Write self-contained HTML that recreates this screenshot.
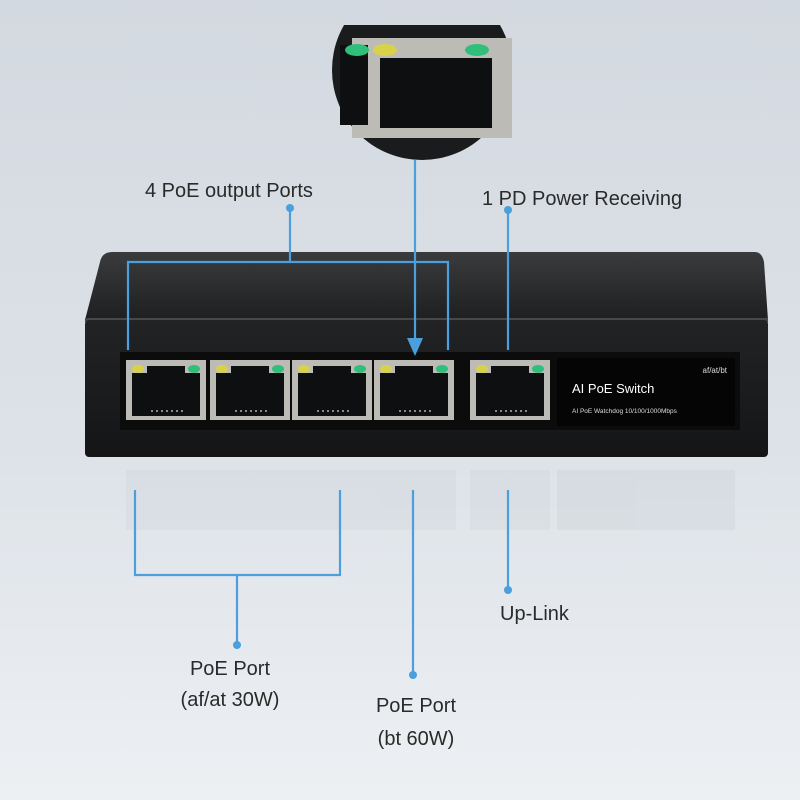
<!DOCTYPE html>
<html><head><style>
html,body{margin:0;padding:0;width:800px;height:800px;overflow:hidden}
svg{display:block}
text{font-family:"Liberation Sans",sans-serif}
</style></head><body>
<svg width="800" height="800" viewBox="0 0 800 800" xmlns="http://www.w3.org/2000/svg">
<defs>
<linearGradient id="bg" x1="0" y1="0" x2="0" y2="1">
<stop offset="0" stop-color="#d3d9e0"/><stop offset="0.55" stop-color="#dde2e8"/><stop offset="1" stop-color="#edf0f3"/>
</linearGradient>
<linearGradient id="top" x1="0" y1="0" x2="0" y2="1">
<stop offset="0" stop-color="#3a3b3d"/><stop offset="1" stop-color="#1e1f21"/>
</linearGradient>
<linearGradient id="front" x1="0" y1="0" x2="0" y2="1">
<stop offset="0" stop-color="#222325"/><stop offset="1" stop-color="#141516"/>
</linearGradient>
<g id="port">
<rect x="0" y="0" width="80" height="60" fill="#bdbbb5"/>
<rect x="6" y="6" width="68" height="50" fill="#0e0f10"/>
<rect x="3" y="3" width="18" height="10" fill="#bdbbb5"/>
<rect x="59" y="3" width="18" height="10" fill="#bdbbb5"/>
<ellipse cx="12" cy="9" rx="6" ry="4" fill="#d8d24a"/>
<ellipse cx="68" cy="9" rx="6" ry="4" fill="#2fbf7a"/>
<g fill="#888"><rect x="25" y="50" width="2" height="2"/><rect x="30" y="50" width="2" height="2"/><rect x="35" y="50" width="2" height="2"/><rect x="40" y="50" width="2" height="2"/><rect x="45" y="50" width="2" height="2"/><rect x="50" y="50" width="2" height="2"/><rect x="55" y="50" width="2" height="2"/></g>
</g>
<clipPath id="cc"><rect x="300" y="25" width="250" height="200"/></clipPath>
</defs>
<rect width="800" height="800" fill="url(#bg)"/>

<g clip-path="url(#cc)">
<circle cx="422" cy="70" r="90" fill="#1a1b1d"/>
<rect x="352" y="38" width="160" height="100" fill="#bdbbb5"/>
<rect x="340" y="45" width="28" height="80" fill="#0e0f10"/>
<rect x="380" y="58" width="112" height="70" fill="#0e0f10"/>
<ellipse cx="357" cy="50" rx="12" ry="6" fill="#2fbf7a"/>
<ellipse cx="385" cy="50" rx="12" ry="6" fill="#d8d24a"/>
<ellipse cx="477" cy="50" rx="12" ry="6" fill="#2fbf7a"/>
</g>

<path d="M112,252 L755,252 Q762,252 764,262 L768,320 L85,320 L100,262 Q102,252 112,252 Z" fill="url(#top)"/>
<rect x="85" y="318" width="683" height="4" fill="#47484a"/>
<rect x="85" y="320" width="683" height="137" rx="4" fill="url(#front)"/>
<rect x="120" y="352" width="620" height="78" fill="#0c0c0d"/>
<use href="#port" x="126" y="360"/>
<use href="#port" x="210" y="360"/>
<use href="#port" x="292" y="360"/>
<use href="#port" x="374" y="360"/>
<use href="#port" x="470" y="360"/>
<rect x="557" y="358" width="178" height="68" fill="#050505"/>
<text x="727" y="373" font-size="8" fill="#ddd" text-anchor="end">af/at/bt</text>
<text x="572" y="393" font-size="13" fill="#fff">AI PoE Switch</text>
<text x="572" y="413" font-size="6.5" fill="#ddd">AI PoE Watchdog   10/100/1000Mbps</text>

<g opacity="0.06">
<rect x="126" y="470" width="330" height="60" fill="#8a8f96"/>
<rect x="470" y="470" width="80" height="60" fill="#8a8f96"/>
<rect x="557" y="470" width="178" height="60" fill="#6a6f76"/>
</g>

<g stroke="#4a9fdc" stroke-width="2.2" fill="none">
<polyline points="290,208 290,262"/>
<polyline points="128,350 128,262 448,262 448,350"/>
<polyline points="415,160 415,345"/>
<polyline points="508,210 508,350"/>
<polyline points="135,490 135,575 340,575 340,490"/>
<polyline points="237,575 237,645"/>
<polyline points="413,490 413,675"/>
<polyline points="508,490 508,590"/>
</g>
<polygon points="407,338 423,338 415,356" fill="#4a9fdc"/>
<g fill="#4a9fdc">
<circle cx="290" cy="208" r="4"/><circle cx="508" cy="210" r="4"/>
<circle cx="237" cy="645" r="4"/><circle cx="413" cy="675" r="4"/><circle cx="508" cy="590" r="4"/>
</g>

<g fill="#2a2a2a" font-size="20">
<text x="145" y="197">4 PoE output Ports</text>
<text x="482" y="205">1 PD Power Receiving</text>
<text x="500" y="620">Up-Link</text>
<text x="230" y="675" text-anchor="middle">PoE Port</text>
<text x="230" y="706" text-anchor="middle">(af/at 30W)</text>
<text x="416" y="712" text-anchor="middle">PoE Port</text>
<text x="416" y="745" text-anchor="middle">(bt 60W)</text>
</g>
</svg>
</body></html>
